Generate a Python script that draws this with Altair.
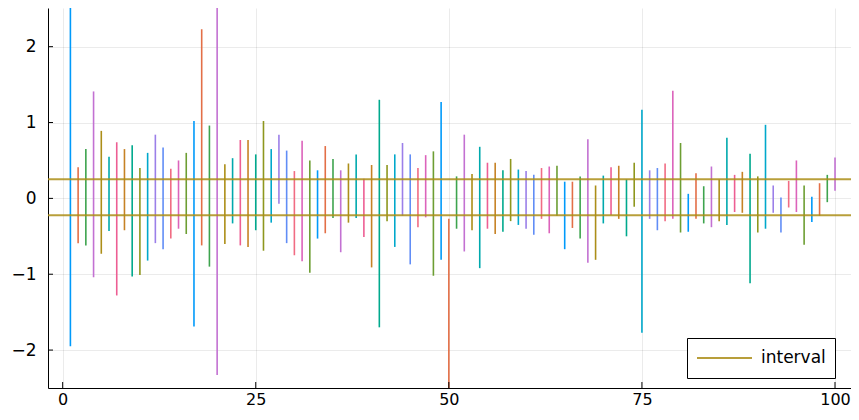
import altair as alt
import pandas as pd

# Confidence-interval segments, one per sample index 1..100
upper = [2.6, 0.41, 0.65, 1.41, 0.89, 0.55, 0.74, 0.65, 0.70, 0.40,
         0.60, 0.84, 0.67, 0.39, 0.50, 0.60, 1.02, 2.23, 0.96, 2.6,
         0.45, 0.53, 0.77, 0.77, 0.58, 1.02, 0.65, 0.84, 0.63, 0.36,
         0.76, 0.50, 0.37, 0.69, 0.52, 0.37, 0.46, 0.58, 0.26, 0.44,
         1.30, 0.44, 0.58, 0.73, 0.58, 0.40, 0.57, 0.62, 1.27, -0.27,
         0.29, 0.84, 0.32, 0.68, 0.47, 0.47, 0.37, 0.52, 0.38, 0.36,
         0.31, 0.40, 0.42, 0.43, 0.22, 0.22, 0.29, 0.78, 0.17, 0.30,
         0.41, 0.43, 0.25, 0.47, 1.17, 0.37, 0.40, 0.46, 1.42, 0.73,
         0.06, 0.33, 0.16, 0.42, 0.25, 0.80, 0.31, 0.35, 0.59, 0.29,
         0.97, 0.17, 0.01, 0.23, 0.50, 0.17, 0.02, 0.20, 0.31, 0.54]

lower = [-1.95, -0.59, -0.62, -1.04, -0.73, -0.43, -1.28, -0.42, -1.03, -1.01,
         -0.82, -0.59, -0.67, -0.53, -0.40, -0.47, -1.69, -0.62, -0.90, -2.33,
         -0.60, -0.33, -0.62, -0.64, -0.42, -0.69, -0.32, -0.07, -0.59, -0.75,
         -0.83, -0.98, -0.53, -0.46, -0.26, -0.71, -0.32, -0.26, -0.51, -0.91,
         -1.70, -0.30, -0.64, -0.23, -0.87, -0.38, -0.25, -1.02, -0.81, -2.6,
         -0.40, -0.70, -0.42, -0.92, -0.40, -0.47, -0.44, -0.30, -0.35, -0.40,
         -0.48, -0.27, -0.46, -0.23, -0.67, -0.39, -0.53, -0.85, -0.81, -0.33,
         -0.22, -0.27, -0.50, -0.11, -1.77, -0.27, -0.42, -0.30, -0.27, -0.45,
         -0.44, -0.27, -0.33, -0.38, -0.30, -0.35, -0.18, -0.19, -1.12, -0.45,
         -0.40, -0.19, -0.45, -0.12, -0.18, -0.61, -0.31, -0.23, -0.05, 0.10]

interval_values = [0.252, -0.222]
interval_label = "interval"

palette = ["#009AFA", "#E36F47", "#3EA44E", "#C371D2", "#AC8E18", "#00A9AD",
           "#ED5E93", "#C68225", "#00A98D", "#8E971E", "#00A8CB", "#9B7FE9",
           "#618DF6", "#F16C83", "#DC63BB", "#6D9E33"]

x_ticks = [0, 25, 50, 75, 100]
y_ticks = [-2, -1, 0, 1, 2]

n = len(upper)
seg_df = pd.DataFrame({
    "idx": list(range(1, n + 1)),
    "lo": lower,
    "hi": upper,
    "col": [palette[i % len(palette)] for i in range(n)],
})
int_df = pd.DataFrame({"y": interval_values, "series": [interval_label] * len(interval_values)})
interval_color = palette[n % len(palette)]

W, H = 803, 380
xscale = alt.Scale(domain=[-1.90, 102.07], nice=False, zero=False)
yscale = alt.Scale(domain=[-2.5, 2.51], nice=False, zero=False)
FONT = "DejaVu Sans"

xaxis = alt.Axis(values=x_ticks, title=None, format="d", labelPadding=3, labelFontSize=16)
yaxis = alt.Axis(values=y_ticks, title=None, format="d", labelPadding=12)

segments = alt.Chart(seg_df).mark_rule(strokeWidth=1.6, clip=True).encode(
    x=alt.X("idx:Q", scale=xscale, axis=xaxis),
    y=alt.Y("lo:Q", scale=yscale, axis=yaxis),
    y2="hi:Q",
    color=alt.Color("col:N", scale=None),
)

intervals = alt.Chart(int_df).mark_rule(strokeWidth=2, opacity=0.85).encode(
    y=alt.Y("y:Q", scale=yscale, axis=yaxis),
    color=alt.Color("series:N",
                    scale=alt.Scale(domain=[interval_label], range=[interval_color]),
                    legend=alt.Legend(title=None, orient="none", legendX=639, legendY=330,
                                      symbolType="stroke", symbolSize=3025,
                                      symbolStrokeWidth=2, symbolOpacity=0.85,
                                      clipHeight=22,
                                      padding=9, labelOffset=8, labelFontSize=17,
                                      labelFont=FONT, labelColor="black",
                                      strokeColor="black", fillColor="white",
                                      cornerRadius=0)),
)

ytick_df = pd.DataFrame({"v": y_ticks})
xtick_df = pd.DataFrame({"v": x_ticks})

ytick_marks = alt.Chart(ytick_df).mark_rule(color="black", strokeWidth=1).encode(
    y=alt.Y("v:Q", scale=yscale, axis=yaxis),
    x=alt.value(0), x2=alt.value(5),
)
xtick_marks = alt.Chart(xtick_df).mark_rule(color="black", strokeWidth=1).encode(
    x=alt.X("v:Q", scale=xscale, axis=xaxis),
    y=alt.value(H), y2=alt.value(H - 6),
)

chart = alt.layer(segments, intervals, ytick_marks, xtick_marks).resolve_scale(
    color="independent"
).properties(
    width=W, height=H,
    padding={"left": 40, "top": 0, "right": 0, "bottom": 22},
    autosize=alt.AutoSizeParams(type="none"),
).configure_view(stroke=None).configure_axis(
    domainColor="black", domainWidth=1, ticks=False,
    gridColor="black", gridOpacity=0.08, gridWidth=1,
    labelFont=FONT, labelFontSize=17, labelColor="black",
)

chart.save("out.html", embed_options={"renderer": "svg", "actions": False})
